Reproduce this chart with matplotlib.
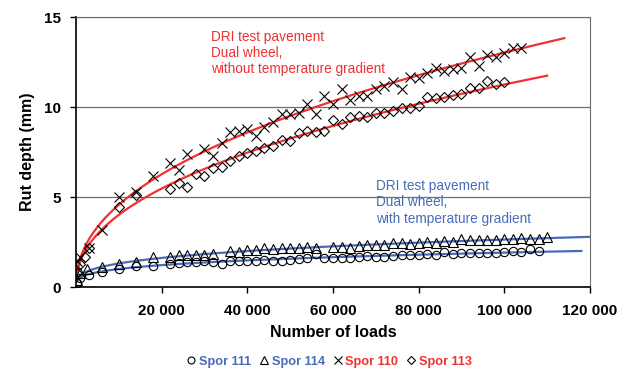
import numpy as np
import matplotlib
matplotlib.use("Agg")
import matplotlib.pyplot as plt
from matplotlib.lines import Line2D

plt.rcParams['font.family'] = ['Liberation Sans', 'DejaVu Sans']

# ==================== DATA ====================

loads_110 = [200, 1000, 3000, 6000, 10000, 14000, 18000, 22000, 24000, 26000, 30000, 32000,
             34000, 36000, 38000, 40000, 42000, 44000, 46000, 48000, 50000, 52000, 54000, 56000,
             58000, 60000, 62000, 64000, 66000, 68000, 70000, 72000, 74000, 76000, 78000, 80000,
             82000, 84000, 86000, 88000, 90000, 92000, 94000, 96000, 98000, 100000, 102000, 104000]
rut_110 = [1.45, 1.7, 2.2, 3.2, 5.0, 5.3, 6.2, 6.9, 6.5, 7.4, 7.7, 7.3,
           8.0, 8.6, 8.7, 8.8, 8.4, 8.9, 9.2, 9.6, 9.6, 9.7, 10.2, 9.6,
           10.6, 10.2, 11.0, 10.4, 10.6, 10.6, 11.0, 11.2, 11.4, 11.0, 11.7, 11.6,
           11.9, 12.2, 12.0, 12.1, 12.2, 12.8, 12.3, 12.9, 12.8, 13.0, 13.3, 13.3]

loads_113 = [200, 1000, 2000, 3000, 10000, 14000, 22000, 24000, 26000, 28000, 30000, 32000,
             34000, 36000, 38000, 40000, 42000, 44000, 46000, 48000, 50000, 52000, 54000, 56000,
             58000, 60000, 62000, 64000, 66000, 68000, 70000, 72000, 74000, 76000, 78000, 80000,
             82000, 84000, 86000, 88000, 90000, 92000, 94000, 96000, 98000, 100000]
rut_113 = [0.8, 1.3, 1.7, 2.2, 4.45, 5.1, 5.45, 5.8, 5.55, 6.3, 6.2, 6.6,
           6.7, 7.0, 7.3, 7.45, 7.55, 7.75, 7.85, 8.15, 8.1, 8.55, 8.7, 8.6,
           8.7, 9.3, 9.05, 9.45, 9.5, 9.45, 9.65, 9.7, 9.8, 9.95, 9.95, 10.05,
           10.55, 10.5, 10.55, 10.65, 10.75, 11.05, 11.05, 11.45, 11.3, 11.4]

loads_114 = [200, 1000, 2500, 6000, 10000, 14000, 18000, 22000, 24000, 26000, 28000, 30000,
             32000, 36000, 38000, 40000, 42000, 44000, 46000, 48000, 50000, 52000, 54000, 56000,
             60000, 62000, 64000, 66000, 68000, 70000, 72000, 74000, 76000, 78000, 80000, 82000,
             84000, 86000, 88000, 90000, 92000, 94000, 96000, 98000, 100000, 102000, 104000,
             106000, 108000, 110000]
rut_114 = [0.4, 0.8, 1.0, 1.1, 1.3, 1.4, 1.65, 1.7, 1.8, 1.8, 1.8, 1.8,
           1.85, 2.0, 1.95, 2.05, 2.05, 2.15, 2.1, 2.15, 2.2, 2.15, 2.25, 2.15,
           2.25, 2.25, 2.2, 2.3, 2.35, 2.35, 2.35, 2.45, 2.45, 2.4, 2.45, 2.5,
           2.45, 2.55, 2.5, 2.65, 2.6, 2.6, 2.6, 2.6, 2.65, 2.65, 2.75,
           2.7, 2.65, 2.8]

loads_111 = [200, 1000, 3000, 6000, 10000, 14000, 18000, 22000, 24000, 26000, 28000, 30000,
             32000, 34000, 36000, 38000, 40000, 42000, 44000, 46000, 48000, 50000, 52000, 54000,
             56000, 58000, 60000, 62000, 64000, 66000, 68000, 70000, 72000, 74000, 76000, 78000,
             80000, 82000, 84000, 86000, 88000, 90000, 92000, 94000, 96000, 98000, 100000,
             102000, 104000, 106000, 108000]
rut_111 = [0.25, 0.5, 0.67, 0.85, 1.0, 1.2, 1.2, 1.3, 1.35, 1.4, 1.4, 1.45,
           1.4, 1.3, 1.45, 1.45, 1.45, 1.45, 1.5, 1.45, 1.45, 1.5, 1.55, 1.6,
           1.85, 1.6, 1.6, 1.6, 1.6, 1.7, 1.75, 1.7, 1.7, 1.75, 1.8, 1.8,
           1.8, 1.85, 1.8, 1.95, 1.85, 1.9, 1.9, 1.9, 1.9, 1.9, 1.95,
           2.0, 1.95, 2.1, 2.0]

fit_end = {'110': 114000, '113': 110000, '114': 120000, '111': 118000}

red = '#F23030'
blue = '#4A6CB8'

# ==================== PLOT ====================

fig = plt.figure(figsize=(6.23, 3.72), dpi=100)
ax = fig.add_axes([0.122, 0.228, 0.825, 0.726])


def power_fit(x, y, x_end):
    # power trendline ln y = ln a + b ln x, fitted on the steady part (>= 5000 loads)
    x = np.asarray(x, float)
    y = np.asarray(y, float)
    keep = x >= 5000
    b, ln_a = np.polyfit(np.log(x[keep]), np.log(y[keep]), 1)
    xs = np.linspace(150, x_end, 400)
    return xs, np.exp(ln_a) * xs ** b


series = [
    ('111', loads_111, rut_111, 'o', blue, 6),
    ('114', loads_114, rut_114, '^', blue, 6.5),
    ('110', loads_110, rut_110, 'x', red, 7),
    ('113', loads_113, rut_113, 'D', red, 4.8),
]

for name, x, y, m, c, ms in series:
    xs, ys = power_fit(x, y, fit_end[name])
    ax.plot(xs, ys, color=c, lw=1.6, zorder=2)
    ax.plot(x, y, linestyle='none', marker=m, ms=ms, mfc='none', mec='black',
            mew=0.8, zorder=3)

ax.set_xlim(0, 120000)
ax.set_ylim(0, 15)
ax.set_yticks([0, 5, 10, 15])
ax.set_xticks([20000, 40000, 60000, 80000, 100000, 120000])
ax.set_xticklabels(['20 000', '40 000', '60 000', '80 000', '100 000', '120 000'])
ax.tick_params(axis='both', labelsize=11, direction='out', length=4, width=1)
ax.tick_params(axis='x', pad=8)
ax.tick_params(axis='y', pad=7)
for lab in ax.get_xticklabels() + ax.get_yticklabels():
    lab.set_fontweight('bold')
ax.yaxis.grid(True, color='#6e6e6e', lw=0.9)
ax.set_axisbelow(True)

for s in ['top', 'right']:
    ax.spines[s].set_color('#6e6e6e')
for s in ['left', 'bottom']:
    ax.spines[s].set_linewidth(1.2)

ax.set_xlabel('Number of loads', fontsize=11.5, fontweight='bold', labelpad=5)
ax.set_ylabel('Rut depth (mm)', fontsize=11.5, fontweight='bold', labelpad=6)

ax.text(31500, 14.3, 'DRI test pavement\nDual wheel,\nwithout temperature gradient',
        color=red, fontsize=9.8, va='top', linespacing=1.2)
ax.text(70000, 6.0, 'DRI test pavement\nDual wheel,\nwith temperature gradient',
        color=blue, fontsize=9.8, va='top', linespacing=1.2)

handles = [Line2D([], [], linestyle='none', marker=m, ms=ms - 1, mfc='none', mec='black', mew=0.8)
           for _, _, _, m, _, ms in series]
labels = ['Spor ' + s[0] for s in series]
leg = fig.legend(handles, labels, loc='lower center', bbox_to_anchor=(0.528, -0.02), ncol=4,
                 frameon=False, fontsize=9.2, handlelength=0.8, handletextpad=0.2,
                 columnspacing=0.6)
for t, s in zip(leg.get_texts(), series):
    t.set_color(s[4])
    t.set_fontweight('bold')

fig.savefig('out.png', dpi=100)
